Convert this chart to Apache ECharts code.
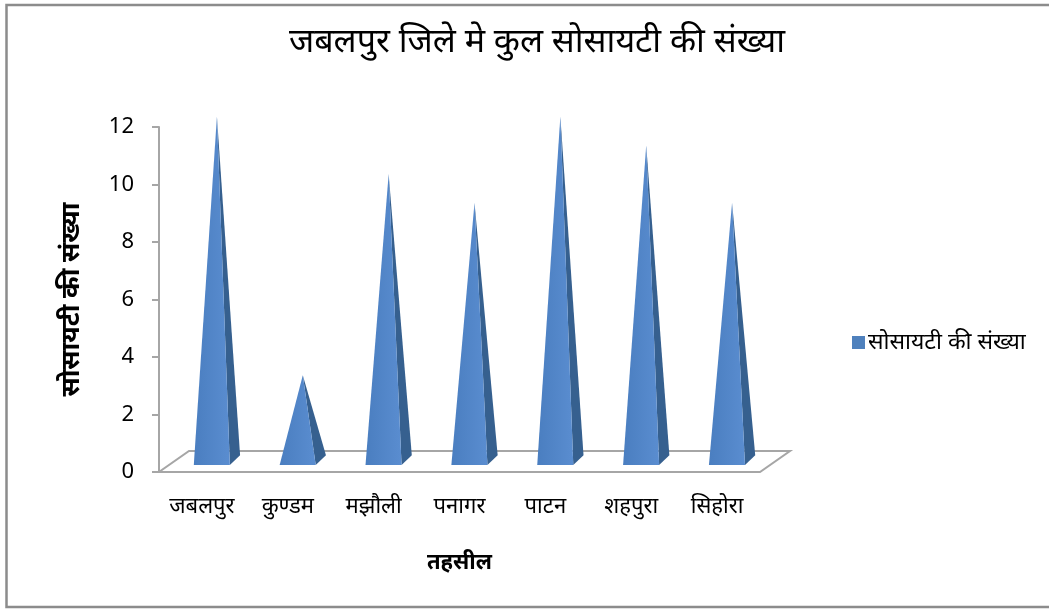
<!DOCTYPE html>
<html>
<head>
<meta charset="utf-8">
<script src="https://cdn.jsdelivr.net/npm/echarts@6/dist/echarts.min.js"></script>
<style>
  html, body { margin: 0; padding: 0; background: #fff; }
  #chart { width: 1049px; height: 610px; }
</style>
</head>
<body>
<div id="chart"></div>
<script>
// तहसील-wise society counts for Jabalpur district
const categories = ['जबलपुर', 'कुण्डम', 'मझौली', 'पनागर', 'पाटन', 'शहपुरा', 'सिहोरा'];
const societyCounts = [12, 3, 10, 9, 12, 11, 9];
const yTicks = { min: 0, max: 12, interval: 2 };

const FONT = '"Noto Sans", "DejaVu Sans", sans-serif';
// depth offset of the back edge of the 3D floor, in pixels
const DEPTH_X = 30, DEPTH_Y = -21;

function depth(t) { return [DEPTH_X * t, DEPTH_Y * t]; }

// One pyramid: visible front face and right-hand side face
function renderPyramid(params, api) {
  const idx = api.value(0);
  const val = api.value(1);
  const base = api.coord([idx, 0]);
  const top = api.coord([idx, val]);
  const band = api.size([1, 0])[0];
  const cx = base[0], y0 = base[1];

  const f = depth(0.33), b = depth(0.8), m = depth(0.5);
  const hwF = band * 0.21, hwB = band * 0.165;
  const fl = [cx + f[0] - hwF, y0 + f[1]];
  const fr = [cx + f[0] + hwF, y0 + f[1]];
  const br = [cx + b[0] + hwB, y0 + b[1]];
  const apex = [cx + m[0], top[1] + m[1]];

  return {
    type: 'group',
    children: [
      {
        type: 'polygon',
        shape: { points: [fr, br, apex] },
        style: { fill: '#36608f' }
      },
      {
        type: 'polygon',
        shape: { points: [fl, fr, apex] },
        style: {
          fill: new echarts.graphic.LinearGradient(0, 0, 1, 0, [
            { offset: 0, color: '#4a7ec0' },
            { offset: 1, color: '#5a8dd0' }
          ])
        }
      }
    ]
  };
}

// Floor of the 3D plot area drawn from the category scale
function renderFloor(params, api) {
  const n = categories.length;
  const band = api.size([1, 0])[0];
  const first = api.coord([0, 0]);
  const last = api.coord([n - 1, 0]);
  const x0 = first[0] - band / 2, x1 = last[0] + band / 2, y = first[1];
  const pts = [
    [x0, y], [x1, y], [x1 + DEPTH_X, y + DEPTH_Y], [x0 + DEPTH_X, y + DEPTH_Y]
  ];
  return {
    type: 'polygon',
    shape: { points: pts },
    style: { fill: 'none', stroke: '#a6a6a6', lineWidth: 2 },
    z2: 0
  };
}

const chart = echarts.init(document.getElementById('chart'));
chart.setOption({
  animation: false,
  backgroundColor: '#fff',
  title: {
    text: 'जबलपुर जिले मे कुल सोसायटी की संख्या',
    left: 532,
    textAlign: 'center',
    top: 20,
    textStyle: { fontFamily: FONT, fontSize: 34, fontWeight: 'normal', color: '#000' }
  },
  legend: {
    data: ['सोसायटी की संख्या'],
    left: 847,
    top: 326,
    icon: 'rect',
    itemWidth: 13,
    itemHeight: 13,
    itemGap: 4,
    textStyle: { fontFamily: FONT, fontSize: 23, color: '#000', padding: [0, 0, 0, -2] }
  },
  grid: { left: 159, right: 289, top: 127, bottom: 138 },
  xAxis: {
    type: 'category',
    data: categories,
    name: 'तहसील',
    nameLocation: 'middle',
    nameGap: 80,
    nameTextStyle: { fontFamily: FONT, fontSize: 22, fontWeight: 'bold', color: '#000' },
    axisLine: { show: false },
    axisTick: { show: false },
    axisLabel: { fontFamily: FONT, fontSize: 22, color: '#000', margin: 24 }
  },
  yAxis: {
    type: 'value',
    min: yTicks.min,
    max: yTicks.max,
    interval: yTicks.interval,
    name: 'सोसायटी की संख्या',
    nameLocation: 'middle',
    nameGap: 74,
    nameRotate: 90,
    nameTextStyle: { fontFamily: FONT, fontSize: 26, fontWeight: 'bold', color: '#000' },
    axisLine: { show: true, lineStyle: { color: '#a6a6a6', width: 2 } },
    axisTick: { show: true, length: 7, lineStyle: { color: '#a6a6a6', width: 2 } },
    axisLabel: { fontFamily: FONT, fontSize: 22, color: '#000', margin: 25 },
    splitLine: { show: false }
  },
  graphic: [
    {
      type: 'rect',
      shape: { x: 6.5, y: 5, width: 1060, height: 602 },
      style: { fill: 'none', stroke: '#8c8c8c', lineWidth: 2.5 },
      silent: true
    }
  ],
  series: [
    {
      type: 'custom',
      name: 'floor',
      renderItem: renderFloor,
      data: [[0, 0]],
      silent: true,
      z: 1
    },
    {
      type: 'custom',
      name: 'सोसायटी की संख्या',
      renderItem: renderPyramid,
      itemStyle: { color: '#4F81BD' },
      encode: { x: 0, y: 1 },
      data: societyCounts.map((v, i) => [i, v]),
      z: 2
    }
  ]
});
</script>
</body>
</html>
